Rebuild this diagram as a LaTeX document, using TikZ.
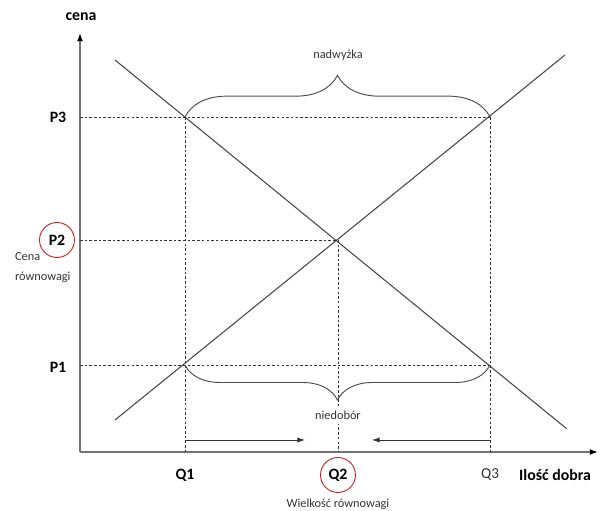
\documentclass[tikz,border=0pt]{standalone}
\usepackage{fontspec}
\setmainfont{Carlito}
\usetikzlibrary{arrows.meta,decorations.pathreplacing}

\begin{document}
\begin{tikzpicture}[x=0.03cm, y=0.03cm,
    linia/.style={draw=black!72, line width=0.9pt},
    os/.style={draw=black!55, line width=1.1pt, -{Latex[length=7pt,width=5pt,black]}},
    kreski/.style={draw=black!80, line width=0.6pt, dash pattern=on 2.2pt off 1.8pt},
    etykieta/.style={font=\fontsize{13.5}{15}\selectfont\bfseries},
    opis/.style={font=\fontsize{10.5}{17}\selectfont, text=black!80},
    rownowaga/.style={etykieta, circle, draw=red!75!black!85, line width=0.8pt, minimum size=1.05cm, inner sep=0pt},
    klamra/.style={draw=black!70, line width=0.8pt, decorate, decoration={brace, amplitude=#1}},
    strzalka/.style={draw=black!80, line width=0.7pt, -{Latex[length=6.5pt,width=4.5pt]}}]

    \useasboundingbox (-80,-59) rectangle (522,452);

    % Osie
    \coordinate (O) at (0,0);
    \coordinate (ykoniec) at (0,419);
    \coordinate (xkoniec) at (518,0);
    \draw[os] (O) -- (ykoniec);
    \draw[os] (O) -- (xkoniec);

    % Punkty na osiach i przeciecia
    \coordinate (q1) at (105,0);
    \coordinate (q2) at (258,0);
    \coordinate (q3) at (410,0);
    \coordinate (p1) at (0,87);
    \coordinate (p2) at (0,212);
    \coordinate (p3) at (0,335);
    \coordinate (A) at (105,335);
    \coordinate (B) at (410,335);
    \coordinate (C) at (105,87);
    \coordinate (D) at (410,87);
    \coordinate (E) at (258,212);

    % Popyt i podaz
    \coordinate (d1) at (35,392);
    \coordinate (d2) at (487,23);
    \coordinate (s1) at (35,32);
    \coordinate (s2) at (485,397);
    \draw[linia] (d1) -- (d2);
    \draw[linia] (s1) -- (s2);

    % Linie przerywane
    \draw[kreski] (p3) -- (B);
    \draw[kreski] (p2) -- (E);
    \draw[kreski] (p1) -- (D);
    \draw[kreski] (A) -- (q1);
    \draw[kreski] (E) -- (q2);
    \draw[kreski] (B) -- (q3);

    % Klamry
    \draw[klamra=1.25cm] (A) -- (B);
    \draw[klamra=1.05cm] (D) -- (C);
    \node[opis] (nadwyzka) at (258,397) {nadwyżka};
    \node[opis, fill=white, inner ysep=4pt] (niedobor) at (258,37) {niedobór};

    % Strzalki przy osi X
    \coordinate (a1) at (105,12);
    \coordinate (a2) at (225,12);
    \coordinate (b1) at (410,12);
    \coordinate (b2) at (292,12);
    \draw[strzalka] (a1) -- (a2);
    \draw[strzalka] (b1) -- (b2);

    % Opisy osi Y
    \node[etykieta] (cena) at (1,435) {cena};
    \node[etykieta] (P3) at (-22,335) {P3};
    \node[rownowaga] (P2) at (-23,212) {P2};
    \node[etykieta] (P1) at (-22,85) {P1};
    \node[opis, anchor=west, align=left] (cenarown) at (-69,184) {Cena\\równowagi};

    % Opisy osi X
    \node[etykieta] (Q1) at (105,-23) {Q1};
    \node[rownowaga] (Q2) at (258,-23) {Q2};
    \node[opis, font=\fontsize{13}{15}\selectfont] (Q3) at (410,-23) {Q3};
    \node[etykieta] (ilosc) at (475,-23) {Ilość dobra};
    \node[opis] (wielkosc) at (258,-52) {Wielkość równowagi};

\end{tikzpicture}
\end{document}
